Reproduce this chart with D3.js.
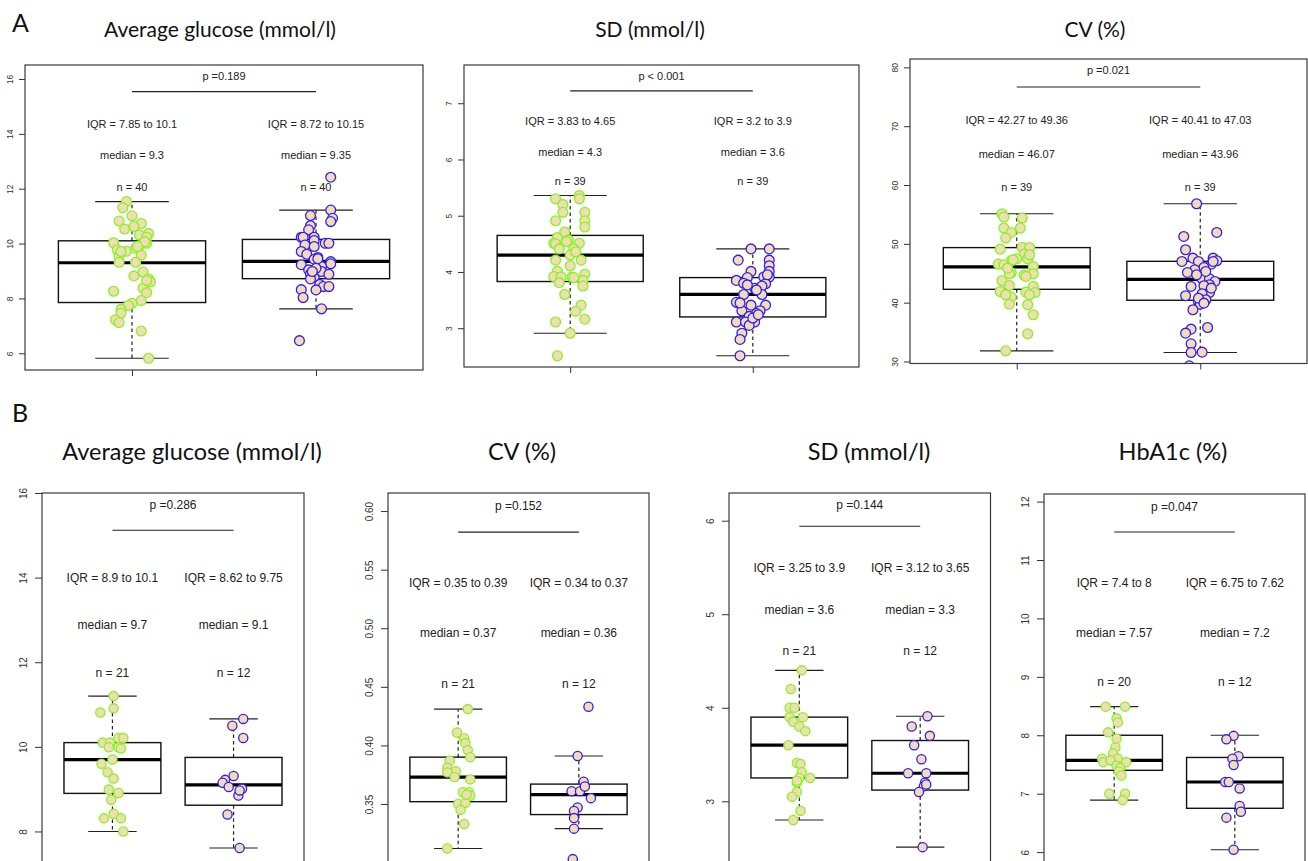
<!DOCTYPE html>
<html>
<head>
<meta charset="utf-8">
<script src="https://cdn.jsdelivr.net/npm/d3@7"></script>
<style>
html,body{margin:0;padding:0;background:#fff;}
svg{display:block;}
</style>
</head>
<body>
<svg id="chart" width="1308" height="861"></svg>
<script>
// ---------------- DATA ----------------
const groups = [1, 2];

// Panel A1: Average glucose (mmol/l)
const a1Green = [11.53,11.31,11.01,10.82,10.73,10.53,10.62,10.37,10.31,10.23,10.03,10.01,9.77,9.72,9.83,9.92,9.58,9.55,9.32,9.32,8.96,8.82,8.71,8.60,8.26,8.38,8.21,7.92,7.82,7.74,7.60,7.46,7.22,7.12,6.81,5.82,10.07,9.71,9.89,8.65];
const a1GreenJit = [-0.03,-0.05,0.00,-0.07,0.05,-0.04,0.01,0.09,0.04,0.08,-0.10,0.08,-0.08,-0.03,0.02,0.04,0.05,-0.07,-0.07,0.02,0.06,0.01,0.09,0.10,-0.10,0.06,0.08,0.05,0.00,-0.02,-0.06,-0.06,-0.09,-0.07,0.05,0.09,0.07,-0.06,0.03,0.08];
const a1Blue = [12.42,11.22,10.92,10.80,11.02,10.65,10.50,10.23,10.23,10.23,10.11,10.01,10.01,9.95,9.89,9.71,9.61,9.49,9.43,9.34,9.23,9.26,9.16,9.04,8.98,8.89,8.88,8.76,8.71,8.51,8.43,8.43,8.32,8.31,8.03,7.62,6.46,9.45,9.10,8.98];
const a1BlueJit = [0.08,0.08,0.09,0.08,-0.03,-0.03,-0.04,-0.08,-0.07,-0.01,-0.01,0.05,0.07,-0.06,-0.01,-0.08,-0.05,0.01,-0.01,0.08,-0.08,0.08,0.03,-0.04,0.03,-0.03,0.07,-0.01,-0.03,0.02,0.04,0.07,-0.08,0.00,-0.07,0.03,-0.09,0.01,0.00,-0.02];
// box stats: [q1, median, q3, whiskerLow, whiskerHigh]
const a1Stats = [[7.85, 9.3, 10.1, 5.82, 11.53], [8.72, 9.35, 10.15, 7.62, 11.22]];
const a1Ticks = [6, 8, 10, 12, 14, 16];
const a1Labels = {p: "p =0.189", iqr: ["IQR = 7.85 to 10.1", "IQR = 8.72 to 10.15"], median: ["median = 9.3", "median = 9.35"], n: ["n = 40", "n = 40"]};

// Panel A2: SD (mmol/l)
const a2Green = [5.30,5.20,5.06,5.36,5.30,5.06,4.91,4.91,4.80,4.71,4.61,4.57,4.51,4.50,4.51,4.41,4.41,4.30,4.21,4.21,4.11,4.01,3.92,3.91,3.91,3.96,3.85,3.81,3.75,3.60,3.41,3.30,3.16,3.11,2.91,2.51,4.54,4.36,3.90];
const a2GreenJit = [-0.08,-0.04,-0.04,0.05,0.05,0.08,0.08,-0.08,0.08,-0.03,-0.07,-0.01,-0.09,-0.08,0.05,-0.06,0.02,0.00,-0.08,0.06,0.00,-0.07,-0.09,-0.05,0.01,0.08,0.07,-0.06,0.07,-0.03,0.06,0.03,0.08,-0.08,0.00,-0.07,-0.02,0.03,0.02];
const a2Blue = [4.41,4.41,4.21,4.21,4.11,4.01,4.01,3.90,3.91,3.91,3.85,3.80,3.79,3.71,3.71,3.75,3.60,3.60,3.46,3.41,3.41,3.31,3.31,3.26,3.21,3.15,3.11,3.11,3.11,3.05,2.91,2.80,2.51,3.18,3.95,3.77,3.24,3.68,3.45];
const a2BlueJit = [-0.01,0.09,-0.08,0.09,0.09,-0.01,0.09,-0.03,0.06,0.09,-0.09,-0.05,0.07,0.01,0.04,0.05,-0.05,0.05,-0.09,-0.01,0.07,-0.06,0.04,0.02,-0.02,0.00,-0.09,-0.04,0.01,-0.02,-0.06,-0.07,-0.07,0.00,0.08,-0.03,0.03,0.02,-0.07];
const a2Stats = [[3.83, 4.3, 4.65, 2.91, 5.36], [3.2, 3.6, 3.9, 2.51, 4.41]];
const a2Ticks = [3, 4, 5, 6, 7];
const a2Labels = {p: "p < 0.001", iqr: ["IQR = 3.83 to 4.65", "IQR = 3.2 to 3.9"], median: ["median = 4.3", "median = 3.6"], n: ["n = 39", "n = 39"]};

// Panel A3: CV (%)
const a3Green = [55.11,54.55,54.38,52.68,52.68,51.94,50.98,49.10,49.39,49.39,48.25,47.46,47.46,47.12,46.55,46.44,46.16,45.08,44.91,44.68,44.91,43.72,42.93,42.76,41.90,41.79,41.73,40.94,39.75,39.64,37.94,34.71,31.81,45.87,47.29,48.14,44.46,41.34,41.34];
const a3GreenJit = [-0.08,-0.07,0.03,-0.07,0.02,-0.03,-0.06,-0.09,0.03,0.07,0.04,0.00,0.06,-0.03,-0.10,-0.07,0.09,-0.03,-0.04,0.04,0.09,-0.08,-0.04,0.09,-0.09,0.05,0.10,-0.03,-0.04,0.06,0.09,0.06,-0.06,-0.05,-0.02,0.07,0.05,-0.06,0.07];
const a3Blue = [56.81,51.94,51.26,48.99,47.57,47.57,47.12,47.01,47.01,46.55,45.99,45.59,45.14,44.06,44.06,43.61,43.04,42.76,42.87,41.73,41.51,41.17,40.49,40.20,39.75,38.79,35.78,35.50,34.82,33.00,31.53,31.59,29.26,47.01,45.31,44.74,42.47,40.77,39.92];
const a3BlueJit = [-0.02,0.09,-0.09,-0.08,-0.04,0.07,0.09,-0.10,-0.01,0.06,0.02,-0.03,-0.07,0.01,0.05,0.08,0.05,-0.05,0.02,0.05,0.01,-0.08,0.03,-0.01,0.00,-0.04,0.04,-0.05,-0.08,-0.05,-0.05,0.01,-0.06,0.07,0.03,-0.02,0.06,-0.01,0.02];
const a3Stats = [[42.27, 46.07, 49.36, 31.81, 55.11], [40.41, 43.96, 47.03, 31.53, 56.81]];
const a3Ticks = [30, 40, 50, 60, 70, 80];
const a3Labels = {p: "p =0.021", iqr: ["IQR = 42.27 to 49.36", "IQR = 40.41 to 47.03"], median: ["median = 46.07", "median = 43.96"], n: ["n = 39", "n = 39"]};

// Panel B1: Average glucose (mmol/l)
const b1Green = [11.20,10.91,10.81,10.21,10.21,10.10,10.10,9.99,9.99,9.96,9.70,9.60,9.40,9.25,8.99,8.91,8.75,8.42,8.31,8.31,8.00];
const b1GreenJit = [0.01,0.01,-0.10,0.05,0.09,-0.08,-0.02,-0.03,0.05,0.07,0.00,-0.09,-0.04,0.01,-0.03,0.05,-0.01,0.01,-0.07,0.07,0.09];
const b1Blue = [10.66,10.50,10.21,9.31,9.22,9.15,9.05,9.01,8.85,8.40,7.61,8.97];
const b1BlueJit = [0.08,-0.01,0.08,0.00,-0.07,-0.09,-0.04,0.07,0.04,-0.05,0.05,0.05];
const b1Stats = [[8.9, 9.7, 10.1, 8.0, 11.2], [8.62, 9.1, 9.75, 7.61, 10.66]];
const b1Ticks = [8, 10, 12, 14, 16];
const b1Labels = {p: "p =0.286", iqr: ["IQR = 8.9 to 10.1", "IQR = 8.62 to 9.75"], median: ["median = 9.7", "median = 9.1"], n: ["n = 21", "n = 12"]};

// Panel B2: CV (%)
const b2Green = [0.431,0.411,0.406,0.402,0.396,0.390,0.387,0.381,0.378,0.377,0.373,0.371,0.360,0.360,0.357,0.350,0.351,0.345,0.333,0.312,0.358];
const b2GreenJit = [0.08,-0.01,0.05,0.06,0.08,0.10,-0.07,-0.09,-0.02,-0.09,-0.03,0.10,0.04,0.09,0.10,0.00,0.06,0.02,0.05,-0.09,0.07];
const b2Blue = [0.433,0.391,0.369,0.361,0.361,0.365,0.355,0.347,0.344,0.338,0.329,0.303];
const b2BlueJit = [0.08,-0.01,0.04,-0.06,0.01,0.05,0.10,-0.01,-0.04,-0.04,-0.04,-0.05];
const b2Stats = [[0.352, 0.373, 0.390, 0.312, 0.431], [0.341, 0.358, 0.367, 0.329, 0.391]];
const b2Ticks = [0.35, 0.40, 0.45, 0.50, 0.55, 0.60];
const b2Labels = {p: "p =0.152", iqr: ["IQR = 0.35 to 0.39", "IQR = 0.34 to 0.37"], median: ["median = 0.37", "median = 0.36"], n: ["n = 21", "n = 12"]};

// Panel B3: SD (mmol/l)
const b3Green = [4.40,4.20,4.00,4.00,3.90,3.90,3.85,3.80,3.75,3.60,3.41,3.40,3.31,3.25,3.25,3.20,3.10,3.05,2.90,2.80,3.22];
const b3GreenJit = [0.02,-0.07,-0.08,-0.04,-0.08,0.03,-0.05,0.00,0.05,-0.09,-0.02,0.01,0.02,0.09,0.00,-0.02,-0.02,-0.06,0.01,-0.05,-0.02];
const b3Blue = [3.91,3.80,3.70,3.60,3.45,3.30,3.30,3.20,3.16,3.10,2.51,3.18];
const b3BlueJit = [0.06,-0.07,0.08,-0.05,0.01,-0.10,0.05,0.04,0.03,-0.01,0.02,0.05];
const b3Stats = [[3.25, 3.6, 3.9, 2.8, 4.4], [3.12, 3.3, 3.65, 2.51, 3.91]];
const b3Ticks = [3, 4, 5, 6];
const b3Labels = {p: "p =0.144", iqr: ["IQR = 3.25 to 3.9", "IQR = 3.12 to 3.65"], median: ["median = 3.6", "median = 3.3"], n: ["n = 21", "n = 12"]};

// Panel B4: HbA1c (%)
const b4Green = [8.49,8.49,8.29,8.22,8.05,7.94,7.79,7.69,7.60,7.60,7.54,7.54,7.57,7.48,7.44,7.38,7.31,7.00,7.00,6.89];
const b4GreenJit = [-0.07,0.09,0.02,0.03,-0.05,0.02,0.01,-0.01,-0.10,0.03,-0.09,0.10,-0.03,0.02,0.05,0.04,0.06,-0.04,0.09,0.07];
const b4Blue = [7.99,7.93,7.64,7.60,7.49,7.20,7.20,7.09,6.79,6.69,6.59,6.04];
const b4BlueJit = [-0.01,-0.07,0.03,-0.02,-0.01,-0.08,-0.05,0.04,0.04,0.05,-0.07,-0.01];
const b4Stats = [[7.4, 7.57, 8.0, 6.89, 8.49], [6.75, 7.2, 7.62, 6.04, 8.0]];
const b4Ticks = [6, 7, 8, 9, 10, 11, 12];
const b4Labels = {p: "p =0.047", iqr: ["IQR = 7.4 to 8", "IQR = 6.75 to 7.62"], median: ["median = 7.57", "median = 7.2"], n: ["n = 20", "n = 12"]};

const titlesA = ["Average glucose (mmol/l)", "SD (mmol/l)", "CV (%)"];
const titlesB = ["Average glucose (mmol/l)", "CV (%)", "SD (mmol/l)", "HbA1c (%)"];

// ---------------- LAYOUT ----------------
const GREEN = "#80f81a", BLUE = "#2e1ef5", FILL = "#f3dcb5";
const xDom = [0.4185, 2.5815];
// annot: y in data units for [p text, p line, IQR, median, n]
const panels = [
  {g: a1Green, gj: a1GreenJit, b: a1Blue, bj: a1BlueJit, stats: a1Stats, ticks: a1Ticks, lab: a1Labels, fmt: d3.format("d"),
   x0: 25, x1: 423, y0: 65, y1: 370, yDom: [5.39, 16.51], annot: [16.12, 15.54, 14.36, 13.23, 12.08], big: false, title: titlesA[0], tx: 220},
  {g: a2Green, gj: a2GreenJit, b: a2Blue, bj: a2BlueJit, stats: a2Stats, ticks: a2Ticks, lab: a2Labels, fmt: d3.format("d"),
   x0: 464, x1: 859, y0: 65, y1: 367, yDom: [2.31, 7.68], annot: [7.49, 7.22, 6.69, 6.14, 5.62], big: false, title: titlesA[1], tx: 650},
  {g: a3Green, gj: a3GreenJit, b: a3Blue, bj: a3BlueJit, stats: a3Stats, ticks: a3Ticks, lab: a3Labels, fmt: d3.format("d"),
   x0: 910, x1: 1307, y0: 59, y1: 363.5, yDom: [29.66, 81.42], annot: [79.6, 76.66, 70.99, 65.26, 59.59], big: false, title: titlesA[2], tx: 1095},
  {g: b1Green, gj: b1GreenJit, b: b1Blue, bj: b1BlueJit, stats: b1Stats, ticks: b1Ticks, lab: b1Labels, fmt: d3.format("d"),
   x0: 42, x1: 304, y0: 493, y1: 900, yDom: [6.38, 16.0], annot: [15.71, 15.12, 13.99, 12.87, 11.75], big: true, title: titlesB[0], tx: 192},
  {g: b2Green, gj: b2GreenJit, b: b2Blue, bj: b2BlueJit, stats: b2Stats, ticks: b2Ticks, lab: b2Labels, fmt: d3.format(".2f"),
   x0: 388, x1: 649, y0: 493, y1: 900, yDom: [0.2681, 0.6154], annot: [0.604, 0.582, 0.539, 0.496, 0.452], big: true, title: titlesB[1], tx: 522},
  {g: b3Green, gj: b3GreenJit, b: b3Blue, bj: b3BlueJit, stats: b3Stats, ticks: b3Ticks, lab: b3Labels, fmt: d3.format("d"),
   x0: 729, x1: 990.5, y0: 493, y1: 900, yDom: [1.945, 6.296], annot: [6.17, 5.94, 5.49, 5.05, 4.61], big: true, title: titlesB[2], tx: 869},
  {g: b4Green, gj: b4GreenJit, b: b4Blue, bj: b4BlueJit, stats: b4Stats, ticks: b4Ticks, lab: b4Labels, fmt: d3.format("d"),
   x0: 1044, x1: 1305, y0: 494, y1: 900, yDom: [5.18, 12.13], annot: [11.91, 11.48, 10.61, 9.75, 8.91], big: true, title: titlesB[3], tx: 1173}
];

const svg = d3.select("#chart");
const TITLE_FONT = "Lato, 'Open Sans', sans-serif";
const R_FONT = "'Liberation Sans', Arial, Helvetica, sans-serif";

svg.append("text").attr("x", 12).attr("y", 32).attr("font-family", TITLE_FONT).attr("font-size", 25).attr("fill", "#111").text("A");
svg.append("text").attr("x", 12).attr("y", 422).attr("font-family", TITLE_FONT).attr("font-size", 25).attr("fill", "#111").text("B");

panels.forEach((P, i) => {
  const x = d3.scaleLinear().domain(xDom).range([P.x0, P.x1]);
  const y = d3.scaleLinear().domain(P.yDom).range([P.y1, P.y0]);
  const g = svg.append("g");
  const fs = P.big ? 12 : 11;
  const tickFs = P.big ? 10 : 8.5;
  const r = P.big ? 4.6 : 4.9;

  // title
  svg.append("text").attr("x", P.tx).attr("y", P.big ? 460 : 37)
    .attr("text-anchor", "middle").attr("font-family", TITLE_FONT)
    .attr("font-size", P.big ? 23.5 : 21).attr("fill", "#111").text(P.title);

  const clipId = "clip" + i;
  svg.append("clipPath").attr("id", clipId).append("rect")
    .attr("x", P.x0).attr("y", P.y0).attr("width", P.x1 - P.x0).attr("height", P.y1 - P.y0);
  const inner = g.append("g").attr("clip-path", `url(#${clipId})`);

  // y axis
  const yAxis = d3.axisLeft(y).tickValues(P.ticks).tickSize(P.big ? 7 : 6).tickFormat(P.fmt);
  const ya = g.append("g").attr("transform", `translate(${P.x0},0)`).call(yAxis);
  ya.select(".domain").remove();
  ya.selectAll(".tick line").attr("stroke", "#333").attr("stroke-width", 1);
  ya.selectAll(".tick text")
    .attr("font-family", R_FONT).attr("font-size", tickFs).attr("fill", "#333")
    .attr("x", null).attr("dy", null)
    .attr("text-anchor", "middle")
    .attr("dominant-baseline", "central")
    .attr("transform", `translate(${P.big ? -19 : -15.5},0) rotate(-90)`);

  // x axis ticks (no labels)
  const xAxis = d3.axisBottom(x).tickValues(groups).tickSize(6).tickFormat("");
  const xa = g.append("g").attr("transform", `translate(0,${P.y1})`).call(xAxis);
  xa.select(".domain").remove();
  xa.selectAll(".tick line").attr("stroke", "#333");

  // frame
  g.append("rect").attr("x", P.x0).attr("y", P.y0).attr("width", P.x1 - P.x0).attr("height", P.y1 - P.y0)
    .attr("fill", "none").attr("stroke", "#3a3a3a").attr("stroke-width", 1.2);

  // boxplots
  const hw = 0.4, cw = 0.2;
  P.stats.forEach((s, k) => {
    const c = groups[k];
    const [q1, med, q3, lo, hi] = s;
    inner.append("line").attr("x1", x(c)).attr("x2", x(c)).attr("y1", y(q3)).attr("y2", y(hi))
      .attr("stroke", "#222").attr("stroke-width", 1.2).attr("stroke-dasharray", "3.5,3");
    inner.append("line").attr("x1", x(c)).attr("x2", x(c)).attr("y1", y(q1)).attr("y2", y(lo))
      .attr("stroke", "#222").attr("stroke-width", 1.2).attr("stroke-dasharray", "3.5,3");
    inner.append("line").attr("x1", x(c - cw)).attr("x2", x(c + cw)).attr("y1", y(hi)).attr("y2", y(hi))
      .attr("stroke", "#222").attr("stroke-width", 1.1);
    inner.append("line").attr("x1", x(c - cw)).attr("x2", x(c + cw)).attr("y1", y(lo)).attr("y2", y(lo))
      .attr("stroke", "#222").attr("stroke-width", 1.1);
    inner.append("rect").attr("x", x(c - hw)).attr("width", x(c + hw) - x(c - hw))
      .attr("y", y(q3)).attr("height", y(q1) - y(q3))
      .attr("fill", "none").attr("stroke", "#111").attr("stroke-width", 1.4);
    inner.append("line").attr("x1", x(c - hw)).attr("x2", x(c + hw)).attr("y1", y(med)).attr("y2", y(med))
      .attr("stroke", "#000").attr("stroke-width", 3.2);
  });

  // points
  const pts = [];
  P.g.forEach((v, j) => pts.push({grp: 1, v, j: P.gj[j], col: GREEN}));
  P.b.forEach((v, j) => pts.push({grp: 2, v, j: P.bj[j], col: BLUE}));
  inner.selectAll("circle.pt").data(pts).enter().append("circle")
    .attr("class", "pt")
    .attr("cx", d => x(d.grp + d.j)).attr("cy", d => y(d.v)).attr("r", r)
    .attr("fill", FILL).attr("stroke", d => d.col).attr("stroke-width", 1.3);

  // annotations
  const [pY, lineY, iqrY, medY, nY] = P.annot;
  const txt = (xv, yv, s) => g.append("text").attr("x", x(xv)).attr("y", y(yv))
    .attr("text-anchor", "middle").attr("dominant-baseline", "central")
    .attr("font-family", R_FONT).attr("font-size", fs).attr("fill", "#222").text(s);
  txt(1.5, pY, P.lab.p);
  g.append("line").attr("x1", x(1)).attr("x2", x(2)).attr("y1", y(lineY)).attr("y2", y(lineY))
    .attr("stroke", "#222").attr("stroke-width", 1.1);
  groups.forEach((c, k) => {
    txt(c, iqrY, P.lab.iqr[k]);
    txt(c, medY, P.lab.median[k]);
    txt(c, nY, P.lab.n[k]);
  });
});
</script>
</body>
</html>
